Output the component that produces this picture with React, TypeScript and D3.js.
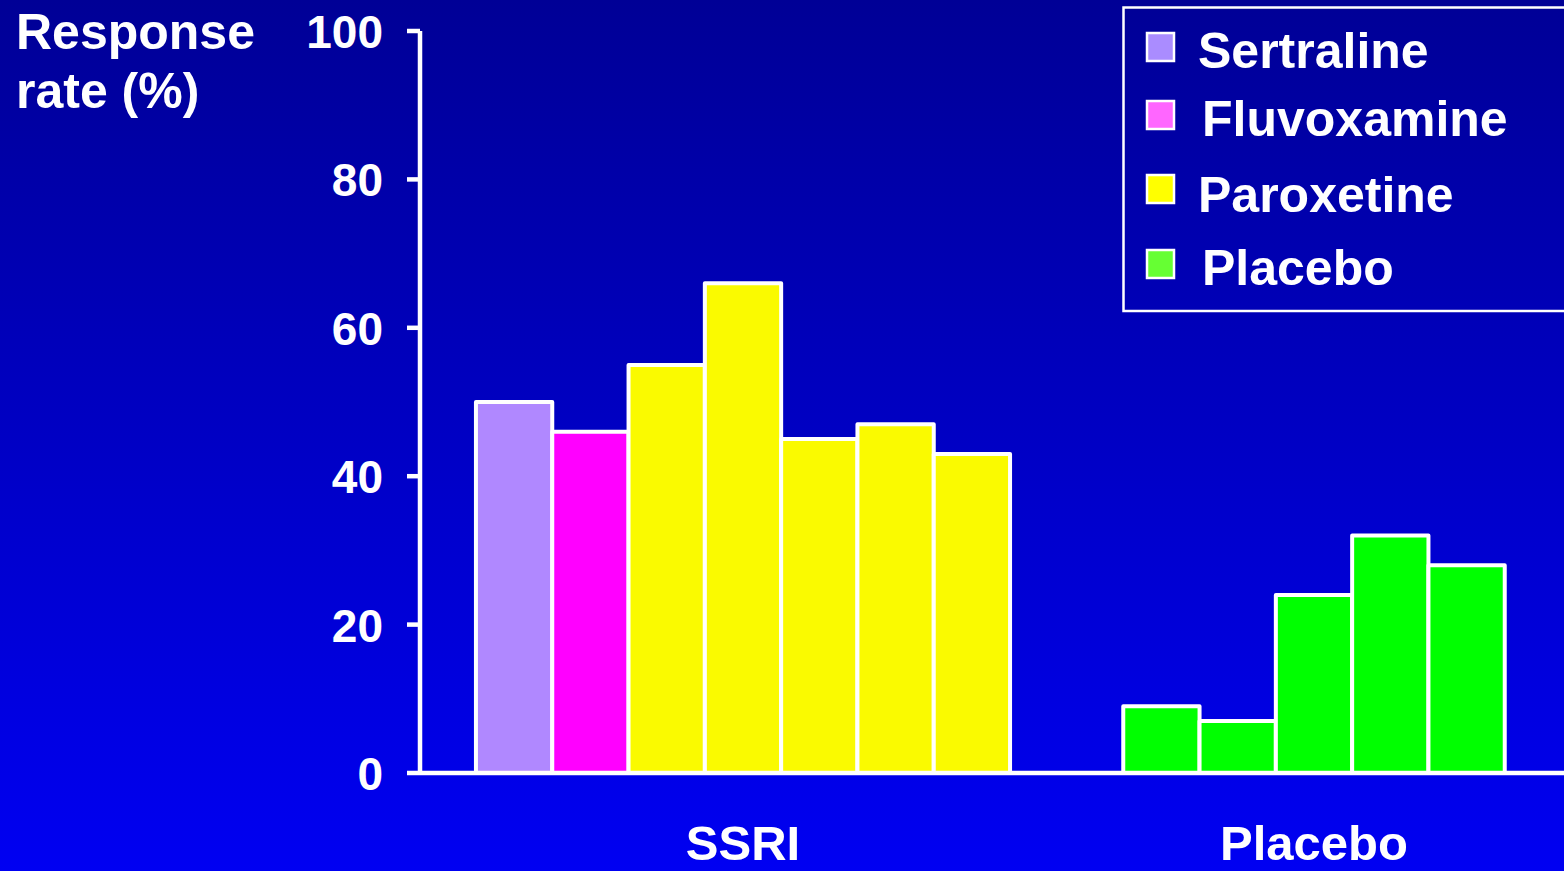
import React from "react";
import * as d3 from "d3";

// Response rates (%) per trial arm
const categories = ["SSRI", "Placebo"];
const ssriDrugs = ["Sertraline", "Fluvoxamine", "Paroxetine", "Paroxetine", "Paroxetine", "Paroxetine", "Paroxetine"];
const ssriValues = [50, 46, 55, 66, 45, 47, 43];
const placeboDrugs = ["Placebo", "Placebo", "Placebo", "Placebo", "Placebo"];
const placeboValues = [9, 7, 24, 32, 28];
const legendLabels = ["Sertraline", "Fluvoxamine", "Paroxetine", "Placebo"];
const yTicks = [0, 20, 40, 60, 80, 100];

const barColor: Record<string, string> = {
  Sertraline: "#b088ff",
  Fluvoxamine: "#ff00ff",
  Paroxetine: "#fafa00",
  Placebo: "#00ff00",
};
const swatchColor: Record<string, string> = {
  Sertraline: "#aa8cff",
  Fluvoxamine: "#ff66ff",
  Paroxetine: "#ffff00",
  Placebo: "#66ff33",
};

const W = 1564;
const H = 871;
const FONT = "'Liberation Sans', Arial, Helvetica, sans-serif";

export default function App() {
  const axisX = 420;
  const y = d3.scaleLinear().domain([0, 100]).range([773, 31]);
  const groupScale = d3.scaleBand<string>().domain(categories).range([457.5, 1599.5]).padding(0);
  const barStep = 76.3;

  const groups = [
    { name: categories[0], drugs: ssriDrugs, values: ssriValues },
    { name: categories[1], drugs: placeboDrugs, values: placeboValues },
  ];

  const legendRows = [
    { top: 32, textX: 1198, base: 68 },
    { top: 100, textX: 1202, base: 136 },
    { top: 174, textX: 1198, base: 212 },
    { top: 249, textX: 1202, base: 285 },
  ];

  return (
    <svg
      width={W}
      height={H}
      style={{ position: "fixed", left: 0, top: 0, display: "block" }}
      fontFamily={FONT}
      fontWeight="bold"
    >
      <defs>
        <linearGradient id="bg" x1="0" y1="0" x2="0" y2="1">
          <stop offset="0" stopColor="#000096" />
          <stop offset="1" stopColor="#0000f2" />
        </linearGradient>
      </defs>
      <rect x={0} y={0} width={W} height={H} fill="url(#bg)" />

      {/* axis title */}
      <text x={16} y={49} fill="#fff" fontSize={50}>Response</text>
      <text x={16} y={108} fill="#fff" fontSize={50}>rate (%)</text>

      {/* bars */}
      {groups.map((g) => {
        const center = (groupScale(g.name) ?? 0) + groupScale.bandwidth() / 2;
        const inner = d3
          .scaleBand<number>()
          .domain(d3.range(g.values.length))
          .range([center - (g.values.length * barStep) / 2, center + (g.values.length * barStep) / 2])
          .padding(0);
        return (
          <g key={g.name}>
            {g.values.map((v, i) => (
              <rect
                key={i}
                x={inner(i)}
                y={y(v)}
                width={inner.bandwidth()}
                height={y(0) - y(v)}
                fill={barColor[g.drugs[i]]}
                stroke="#fff"
                strokeWidth={4}
                strokeLinejoin="round"
              />
            ))}
            <text
              x={center}
              y={860}
              fill="#fff"
              fontSize={49}
              textAnchor="middle"
            >
              {g.name}
            </text>
          </g>
        );
      })}

      {/* y axis */}
      <line x1={axisX} x2={axisX} y1={y(100)} y2={y(0) + 2} stroke="#fff" strokeWidth={4.5} />
      {yTicks.map((t) => (
        <g key={t}>
          <line x1={407} x2={axisX} y1={y(t)} y2={y(t)} stroke="#fff" strokeWidth={4.5} />
          <text x={383} y={y(t) + 17} fill="#fff" fontSize={46} textAnchor="end">
            {t}
          </text>
        </g>
      ))}
      {/* x axis */}
      <line x1={axisX} x2={W} y1={y(0)} y2={y(0)} stroke="#fff" strokeWidth={4.5} />

      {/* legend */}
      <rect x={1123.5} y={7.5} width={500} height={303.5} fill="none" stroke="#fff" strokeWidth={2.5} />
      {legendLabels.map((name, i) => {
        const r = legendRows[i];
        return (
          <g key={name}>
            <rect
              x={1147}
              y={r.top + 1}
              width={27}
              height={28}
              fill={swatchColor[name]}
              stroke="#fff"
              strokeWidth={2.5}
            />
            <text x={r.textX} y={r.base} fill="#fff" fontSize={50}>
              {name}
            </text>
          </g>
        );
      })}
    </svg>
  );
}
